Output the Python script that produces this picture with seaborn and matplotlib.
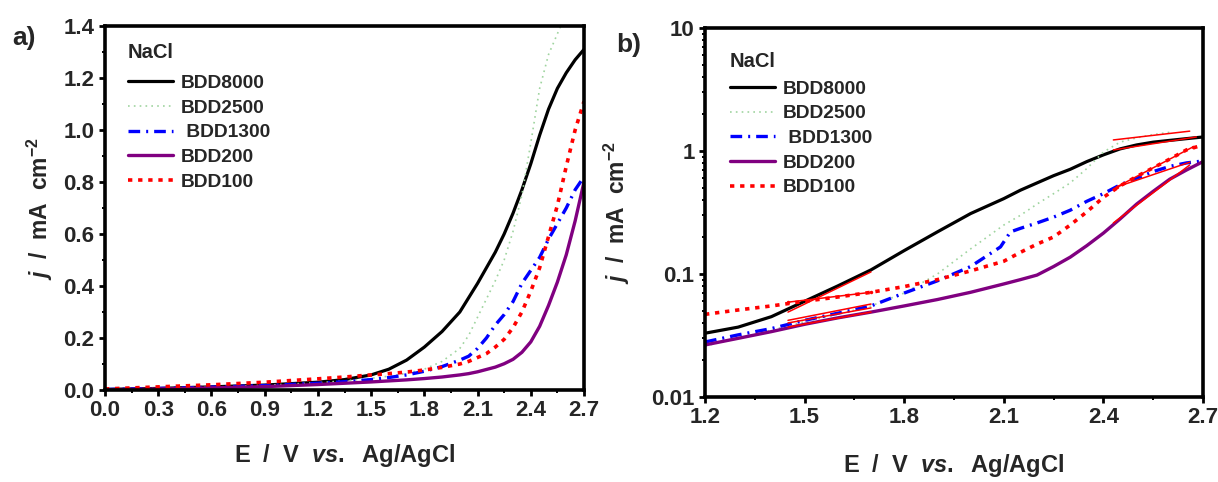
import numpy as np
import pandas as pd
import matplotlib
matplotlib.use("Agg")
import matplotlib.pyplot as plt
from matplotlib.ticker import MultipleLocator, FormatStrFormatter, FixedLocator, FixedFormatter, LogLocator, NullFormatter
import seaborn as sns

# ---------------- data ----------------
series_names = ["BDD8000", "BDD2500", " BDD1300", "BDD200", "BDD100"]

# Panel a (linear)
E_a = [0.0, 0.3, 0.6, 0.9, 1.2, 1.35, 1.5, 1.6, 1.7, 1.8, 1.9, 2.0, 2.05, 2.1, 2.15, 2.2,
       2.25, 2.3, 2.35, 2.4, 2.45, 2.5, 2.55, 2.6, 2.65, 2.7]
j_a_8000 = [0.002, 0.006, 0.012, 0.019, 0.030, 0.040, 0.058, 0.080, 0.115, 0.165, 0.225, 0.30, 0.355, 0.41,
            0.47, 0.53, 0.60, 0.68, 0.77, 0.87, 0.98, 1.08, 1.16, 1.22, 1.27, 1.31]
E_a_2500 = [0.0, 0.3, 0.6, 0.9, 1.2, 1.35, 1.5, 1.6, 1.7, 1.8, 1.9, 2.0, 2.05, 2.1, 2.15, 2.2,
            2.25, 2.3, 2.35, 2.4, 2.45, 2.5, 2.55, 2.6]
j_a_2500 = [0.002, 0.006, 0.011, 0.018, 0.028, 0.035, 0.045, 0.053, 0.064, 0.080, 0.11, 0.16, 0.21, 0.28,
            0.35, 0.42, 0.50, 0.61, 0.75, 0.95, 1.16, 1.29, 1.37, 1.45]
j_a_1300 = [0.002, 0.006, 0.011, 0.017, 0.026, 0.032, 0.040, 0.048, 0.058, 0.072, 0.090, 0.115, 0.13, 0.16,
            0.20, 0.25, 0.29, 0.34, 0.41, 0.46, 0.51, 0.58, 0.64, 0.70, 0.77, 0.82]
j_a_200 = [0.001, 0.004, 0.008, 0.013, 0.021, 0.026, 0.031, 0.035, 0.039, 0.044, 0.050, 0.058, 0.063, 0.070,
           0.079, 0.088, 0.101, 0.118, 0.145, 0.185, 0.245, 0.325, 0.415, 0.52, 0.65, 0.80]
j_a_100 = [0.004, 0.012, 0.020, 0.030, 0.043, 0.050, 0.058, 0.063, 0.069, 0.077, 0.087, 0.10, 0.11, 0.125,
           0.14, 0.165, 0.195, 0.24, 0.30, 0.38, 0.47, 0.59, 0.71, 0.86, 1.00, 1.11]

# Panel b (log)
E_b = [1.2, 1.3, 1.4, 1.5, 1.6, 1.7, 1.8, 1.9, 2.0, 2.1, 2.15, 2.2, 2.25, 2.3, 2.35, 2.4, 2.45,
       2.5, 2.55, 2.6, 2.65, 2.7]
j_b_8000 = [0.033, 0.037, 0.045, 0.060, 0.080, 0.108, 0.155, 0.22, 0.31, 0.41, 0.48, 0.55, 0.63, 0.71, 0.82,
            0.93, 1.04, 1.12, 1.18, 1.22, 1.26, 1.30]
E_b_2500 = [1.2, 1.3, 1.4, 1.5, 1.6, 1.7, 1.8, 1.9, 2.0, 2.1, 2.15, 2.2, 2.25, 2.3, 2.35, 2.4, 2.45,
            2.5, 2.55, 2.6]
j_b_2500 = [0.026, 0.030, 0.035, 0.041, 0.047, 0.055, 0.070, 0.10, 0.16, 0.25, 0.30, 0.37, 0.45, 0.55, 0.72,
            0.98, 1.18, 1.28, 1.36, 1.42]
E_b_1300 = [1.2, 1.3, 1.4, 1.5, 1.6, 1.7, 1.8, 1.9, 2.0, 2.09, 2.12, 2.15, 2.2, 2.25, 2.3, 2.35, 2.4,
            2.45, 2.5, 2.55, 2.6, 2.65, 2.7]
j_b_1300 = [0.028, 0.032, 0.036, 0.042, 0.048, 0.055, 0.070, 0.088, 0.115, 0.166, 0.22, 0.235, 0.26, 0.29,
            0.33, 0.39, 0.45, 0.53, 0.60, 0.68, 0.75, 0.80, 0.83]
j_b_200 = [0.0265, 0.030, 0.034, 0.039, 0.044, 0.049, 0.055, 0.062, 0.071, 0.083, 0.090, 0.098, 0.115, 0.137,
           0.17, 0.215, 0.28, 0.37, 0.47, 0.59, 0.70, 0.82]
j_b_100 = [0.047, 0.051, 0.055, 0.060, 0.065, 0.071, 0.079, 0.090, 0.106, 0.127, 0.15, 0.175, 0.20, 0.25,
           0.32, 0.42, 0.52, 0.62, 0.73, 0.86, 1.02, 1.12]

# Tafel fit segments in panel b: (E start, E end, j start, j end)
fit_low = {
    "BDD8000": (1.45, 1.70, 0.049, 0.104),
    "BDD100": (1.45, 1.70, 0.059, 0.071),
    "BDD1300": (1.45, 1.70, 0.042, 0.057),
    "BDD2500": (1.45, 1.70, 0.040, 0.053),
    "BDD200": (1.45, 1.70, 0.037, 0.049),
}
fit_high = {
    "BDD2500": (2.43, 2.66, 1.23, 1.45),
    "BDD8000": (2.43, 2.68, 1.02, 1.30),
    "BDD100": (2.44, 2.67, 0.51, 1.08),
    "BDD1300": (2.44, 2.66, 0.51, 0.81),
    "BDD200": (2.43, 2.66, 0.26, 0.77),
}

xticks_a = [0.0, 0.3, 0.6, 0.9, 1.2, 1.5, 1.8, 2.1, 2.4, 2.7]
yticks_a = [0.0, 0.2, 0.4, 0.6, 0.8, 1.0, 1.2, 1.4]
xticks_b = [1.2, 1.5, 1.8, 2.1, 2.4, 2.7]
yticks_b = [0.01, 0.1, 1, 10]
yticklabels_b = ["0.01", "0.1", "1", "10"]

# ---------------- style ----------------
sns.set_theme(style="ticks")
plt.rcParams["font.family"] = ["Liberation Sans", "DejaVu Sans"]
plt.rcParams["font.weight"] = "bold"
plt.rcParams["axes.labelweight"] = "bold"
plt.rcParams["mathtext.fontset"] = "custom"
plt.rcParams["mathtext.rm"] = "Liberation Sans:bold"
plt.rcParams["mathtext.bf"] = "Liberation Sans:bold"
plt.rcParams["mathtext.it"] = "Liberation Sans:italic:bold"

styles = {
    "BDD8000": dict(color="black", lw=2.3, ls="-"),
    "BDD2500": dict(color="#9fd49f", lw=1.2, ls=(0, (1, 2.5))),
    "BDD1300": dict(color="#0000ff", lw=2.4, ls=(0, (3.5, 1.8, 0.6, 1.8))),
    "BDD200": dict(color="#800080", lw=2.4, ls="-"),
    "BDD100": dict(color="#ff0000", lw=2.6, ls=(0, (1.2, 1.6))),
}

fig = plt.figure(figsize=(12.18, 4.82), dpi=100)
W, H = 1218, 482
ax_a = fig.add_axes([105 / W, 1 - 390 / H, (584 - 105) / W, (390 - 26) / H])
ax_b = fig.add_axes([705 / W, 1 - 397 / H, (1203 - 705) / W, (397 - 28) / H])


def draw(ax, x, y, key, label):
    st = styles[key]
    sns.lineplot(x=x, y=y, ax=ax, color=st["color"], lw=st["lw"], label=label,
                 sort=False, estimator=None)
    line = ax.get_lines()[-1]
    line.set_linestyle(st["ls"])
    line.set_dash_capstyle("butt")
    line.set_solid_joinstyle("round")


# panel a
draw(ax_a, E_a, j_a_8000, "BDD8000", series_names[0])
draw(ax_a, E_a_2500, j_a_2500, "BDD2500", series_names[1])
draw(ax_a, E_a, j_a_1300, "BDD1300", series_names[2])
draw(ax_a, E_a, j_a_200, "BDD200", series_names[3])
draw(ax_a, E_a, j_a_100, "BDD100", series_names[4])

# panel b
ax_b.set_yscale("log")
draw(ax_b, E_b, j_b_8000, "BDD8000", series_names[0])
draw(ax_b, E_b_2500, j_b_2500, "BDD2500", series_names[1])
draw(ax_b, E_b_1300, j_b_1300, "BDD1300", series_names[2])
draw(ax_b, E_b, j_b_200, "BDD200", series_names[3])
draw(ax_b, E_b, j_b_100, "BDD100", series_names[4])

for seg in (fit_low, fit_high):
    for k, (e0, e1, j0, j1) in seg.items():
        mk = "." if k == "BDD100" else None
        sns.lineplot(x=[e0, e1], y=[j0, j1], ax=ax_b, color="#ff0000", lw=1.1,
                     marker=mk, markersize=5, markeredgewidth=0, sort=False, estimator=None)

# axes formatting
for ax in (ax_a, ax_b):
    for sp in ax.spines.values():
        sp.set_visible(True)
        sp.set_linewidth(2.6)
        sp.set_color("black")
    ax.tick_params(which="major", direction="out", length=4.5, width=2.0,
                   labelsize=16, pad=3, color="black")
    ax.tick_params(which="minor", direction="out", length=2.5, width=1.4, color="black")
    ax.tick_params(top=False, right=False)

ax_a.set_xlim(0, 2.7)
ax_a.set_ylim(0, 1.4)
ax_a.xaxis.set_major_locator(FixedLocator(xticks_a))
ax_a.xaxis.set_minor_locator(MultipleLocator(0.15))
ax_a.yaxis.set_major_locator(FixedLocator(yticks_a))
ax_a.yaxis.set_minor_locator(MultipleLocator(0.1))
ax_a.xaxis.set_major_formatter(FormatStrFormatter("%.1f"))
ax_a.yaxis.set_major_formatter(FormatStrFormatter("%.1f"))

ax_b.set_xlim(1.2, 2.7)
ax_b.set_ylim(0.01, 10)
ax_b.xaxis.set_major_locator(FixedLocator(xticks_b))
ax_b.xaxis.set_minor_locator(MultipleLocator(0.15))
ax_b.yaxis.set_major_locator(FixedLocator(yticks_b))
ax_b.yaxis.set_major_formatter(FixedFormatter(yticklabels_b))
ax_b.yaxis.set_minor_locator(LogLocator(base=10, subs=np.arange(2, 10) * 1.0, numticks=20))
ax_b.yaxis.set_minor_formatter(NullFormatter())

for ax in (ax_a, ax_b):
    for t in ax.get_xticklabels() + ax.get_yticklabels():
        t.set_fontweight("bold")
        t.set_fontsize(16)

xlab = "E  /  V  $vs.$  Ag/AgCl"
ylab = "$j$  /  mA  cm$^{-2}$"
ax_a.set_xlabel(xlab, fontsize=17, fontweight="bold", labelpad=15)
ax_a.set_ylabel(ylab, fontsize=16.5, fontweight="bold", labelpad=6)
ax_b.set_xlabel(xlab, fontsize=17, fontweight="bold", labelpad=17)
ax_b.set_ylabel(ylab, fontsize=16.5, fontweight="bold", labelpad=14)

for ax, anchor, sep in ((ax_a, (0.032, 0.974), 9), (ax_b, (0.035, 0.957), 7)):
    leg = ax.legend(title="NaCl", loc="upper left", bbox_to_anchor=anchor, frameon=False,
                    prop={"weight": "bold", "size": 13.8}, handlelength=2.35,
                    handletextpad=0.4, labelspacing=0.38, borderaxespad=0,
                    alignment="left")
    leg.get_title().set_fontweight("bold")
    leg.get_title().set_fontsize(14.5)
    leg._legend_box.sep = sep

fig.text(12 / W, 1 - 38 / H, "a)", fontsize=19, fontweight="bold", va="center", ha="left")
fig.text(616 / W, 1 - 45 / H, "b)", fontsize=19, fontweight="bold", va="center", ha="left")

fig.savefig("out.png", dpi=100)
